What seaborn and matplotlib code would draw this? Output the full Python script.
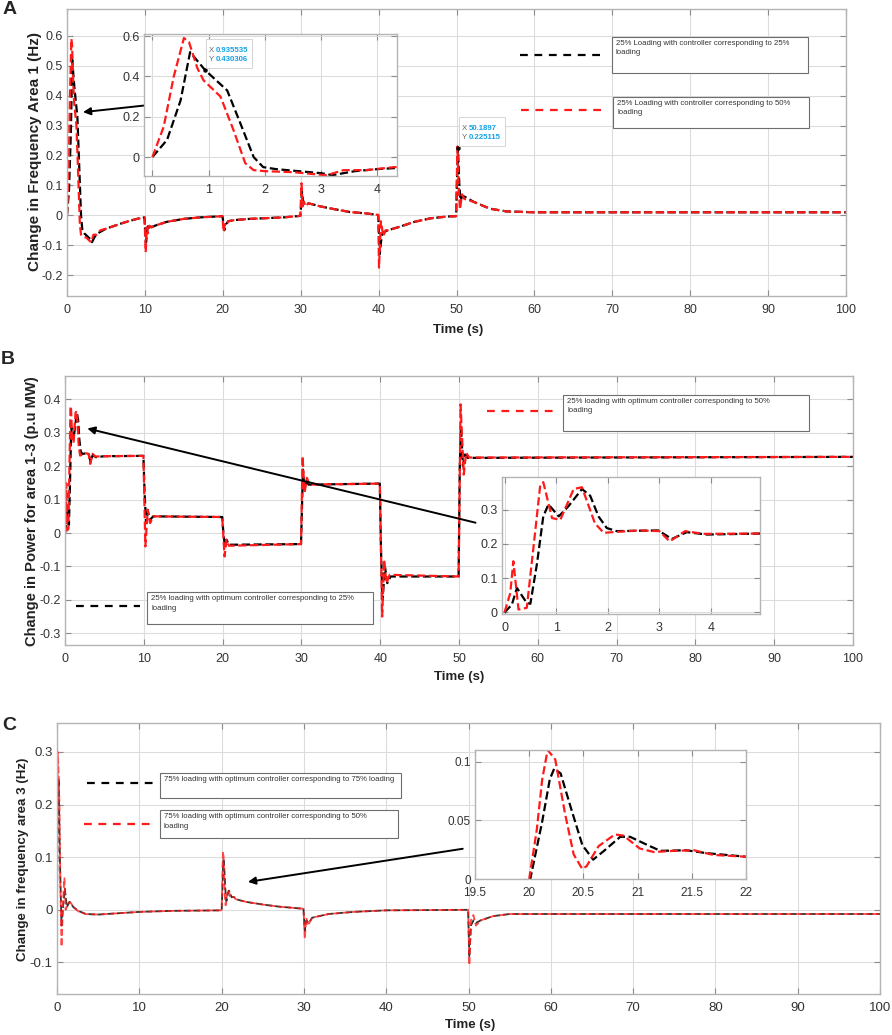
import pandas as pd
import seaborn as sns
import matplotlib.pyplot as plt
from matplotlib.lines import Line2D
from matplotlib.patches import Rectangle
from matplotlib.ticker import FuncFormatter
from matplotlib.transforms import ScaledTranslation

# ---- panel A: change in frequency area 1 (Hz) ----
a_t_black = [0, 0.26, 0.5, 0.67, 0.94, 1.33, 1.56, 1.8, 1.97, 2.2, 2.6, 3.0, 3.2, 3.6, 4.0, 4.3,
             5.0, 6.0, 7.0, 8.0, 9.0, 9.95, 10.05, 10.15, 10.3, 10.5, 10.8, 11.5, 12.8, 15.0, 17.1,
             19.95, 20.05, 20.2, 20.4, 20.7, 21.5, 23.5, 27.8, 29.95, 30.05, 30.15, 30.3, 30.5, 31.0,
             32.5, 34.0, 36.3, 38.5, 39.95, 40.05, 40.15, 40.3, 40.5, 40.8, 41.2, 42.5, 44.6, 46.7,
             48.9, 49.95, 50.05, 50.19, 50.35, 50.5, 50.8, 51.2, 52.2, 54.3, 56.4, 60, 100]
a_y_black = [0, 0.085, 0.28, 0.52, 0.43, 0.33, 0.17, 0.0, -0.05, -0.06, -0.07, -0.08, -0.09, -0.07, -0.06, -0.055,
             -0.045, -0.036, -0.027, -0.019, -0.012, -0.007, -0.06, -0.09, -0.05, -0.03, -0.04, -0.033, -0.022, -0.012, -0.007,
             -0.003, -0.02, -0.05, -0.03, -0.02, -0.016, -0.012, -0.007, -0.002, 0.03, 0.08, 0.05, 0.035, 0.04,
             0.03, 0.022, 0.011, 0.006, 0.001, -0.06, -0.13, -0.09, -0.06, -0.055, -0.05, -0.04, -0.022, -0.01,
             -0.004, -0.003, 0.1, 0.225, 0.11, 0.05, 0.065, 0.06, 0.045, 0.022, 0.013, 0.01, 0.01]
a_t_red = [0, 0.2, 0.38, 0.56, 0.65, 0.8, 0.91, 1.21, 1.44, 1.65, 1.8, 2.0, 2.5, 3.0, 3.1, 3.4, 3.8, 4.3,
           5.0, 6.0, 7.0, 8.0, 9.0, 9.95, 10.1, 10.25, 10.4, 10.6, 10.9, 11.5, 12.8, 15.0, 17.1,
           19.95, 20.1, 20.25, 20.45, 20.7, 21.5, 23.5, 27.8, 29.95, 30.1, 30.25, 30.4, 30.6, 31.0,
           32.5, 34.0, 36.3, 38.5, 39.95, 40.05, 40.3, 40.6, 40.9, 41.2, 42.5, 44.6, 46.7,
           48.9, 49.95, 50.12, 50.3, 50.45, 50.7, 51.0, 52.2, 54.3, 56.4, 60, 100]
a_y_red = [0, 0.15, 0.4, 0.59, 0.57, 0.44, 0.38, 0.30, 0.135, -0.03, -0.065, -0.07, -0.075, -0.088, -0.09, -0.065, -0.065, -0.05,
           -0.045, -0.036, -0.027, -0.019, -0.012, -0.007, -0.123, -0.04, -0.06, -0.035, -0.04, -0.033, -0.022, -0.012, -0.007,
           -0.003, -0.055, -0.03, -0.035, -0.02, -0.016, -0.012, -0.007, -0.002, 0.107, 0.03, 0.045, 0.03, 0.04,
           0.03, 0.022, 0.011, 0.006, 0.001, -0.175, -0.02, -0.07, -0.05, -0.05, -0.04, -0.022, -0.01,
           -0.004, -0.003, 0.23, 0.08, 0.02, 0.07, 0.055, 0.045, 0.022, 0.013, 0.01, 0.01]
a_yticks = [-0.2, -0.1, 0, 0.1, 0.2, 0.3, 0.4, 0.5, 0.6]
a_inset_yticks = [0, 0.2, 0.4, 0.6]
a_inset_xticks = [0, 1, 2, 3, 4]
a_tip_inset = (0.935535, 0.430306)
a_tip_main = (50.1897, 0.225115)

# ---- panel B: change in power for area 1-3 (p.u MW) ----
b_t_black = [0, 0.14, 0.24, 0.43, 0.5, 0.63, 0.75, 0.85, 1.05, 1.24, 1.5, 1.66, 1.82, 1.98, 2.17,
             2.98, 3.24, 3.53, 3.92, 5.0, 9.95, 10.1, 10.3, 10.5, 10.8, 11.2, 19.95, 20.1, 20.3, 20.5,
             20.8, 29.95, 30.2, 30.4, 30.6, 30.9, 39.95, 40.1, 40.3, 40.6, 40.9, 41.3, 49.95, 50.1, 50.25,
             50.5, 50.75, 51.1, 100]
b_y_black = [0, 0.022, 0.071, 0.027, 0.025, 0.144, 0.28, 0.315, 0.28, 0.31, 0.36, 0.34, 0.28, 0.246, 0.237,
             0.239, 0.214, 0.234, 0.227, 0.23, 0.231, 0.12, 0.03, 0.065, 0.04, 0.05, 0.048, 0.0, -0.04, -0.02,
             -0.035, -0.033, 0.19, 0.13, 0.16, 0.145, 0.148, -0.05, -0.2, -0.1, -0.15, -0.13, -0.13, 0.2, 0.32,
             0.2, 0.235, 0.225, 0.228]
b_t_red = [0, 0.11, 0.17, 0.27, 0.43, 0.56, 0.69, 0.75, 0.92, 1.08, 1.34, 1.5, 1.75, 1.92, 2.1,
           2.6, 3.0, 3.2, 3.5, 3.85, 5.0, 9.95, 10.2, 10.5, 10.8, 11.2, 19.95, 20.25, 20.5, 20.8,
           29.95, 30.15, 30.4, 30.7, 31.0, 39.95, 40.25, 40.5, 40.8, 41.2, 49.95, 50.2, 50.6, 50.9, 51.3, 100]
b_y_red = [0, 0.056, 0.149, 0.008, 0.013, 0.19, 0.37, 0.38, 0.275, 0.27, 0.36, 0.365, 0.26, 0.232, 0.234,
           0.239, 0.237, 0.207, 0.237, 0.229, 0.23, 0.231, -0.04, 0.07, 0.03, 0.05, 0.048, -0.07, -0.02, -0.038,
           -0.033, 0.23, 0.12, 0.165, 0.145, 0.148, -0.25, -0.08, -0.15, -0.125, -0.13, 0.385, 0.175, 0.24, 0.226, 0.228]
b_yticks = [-0.3, -0.2, -0.1, 0, 0.1, 0.2, 0.3, 0.4]
b_inset_yticks = [0, 0.1, 0.2, 0.3]
b_inset_xticks = [0, 1, 2, 3, 4]

# ---- panel C: change in frequency area 3 (Hz) ----
c_t_black = [0, 0.1, 0.2, 0.35, 0.55, 0.7, 0.95, 1.2, 1.5, 2.0, 2.6, 3.5, 5.0, 7.0, 10.0,
             14.0, 19.95, 20.01, 20.12, 20.19, 20.23, 20.29, 20.39, 20.49, 20.59, 20.69, 20.84, 20.93, 21.09, 21.21,
             21.45, 21.64, 22.0, 23.0, 25.0, 27.0, 29.95, 30.1, 30.3, 30.6, 31.0, 33.0, 36.0, 40.0, 49.95,
             50.1, 50.3, 50.6, 50.9, 51.5, 53.0, 55.0, 100]
c_y_black = [0, 0.2, 0.25, 0.1, -0.03, 0.0, 0.04, 0.005, 0.015, 0.005, -0.002, -0.008, -0.009, -0.007, -0.004,
             -0.002, -0.001, 0.0, 0.049, 0.085, 0.094, 0.09, 0.059, 0.029, 0.0165, 0.024, 0.036, 0.036, 0.029, 0.024,
             0.0245, 0.022, 0.019, 0.015, 0.01, 0.006, 0.002, -0.04, -0.02, -0.025, -0.015, -0.008, -0.004, -0.001, 0.0,
             -0.09, -0.03, -0.02, -0.025, -0.02, -0.012, -0.008, -0.008]
c_t_red = [0, 0.1, 0.2, 0.3, 0.4, 0.55, 0.75, 0.9, 1.05, 1.3, 1.6, 2.0, 2.6, 3.5, 5.0,
           7.0, 10.0, 14.0, 19.95, 20.0, 20.07, 20.12, 20.17, 20.24, 20.33, 20.41, 20.49, 20.53, 20.64, 20.79,
           20.87, 21.02, 21.15, 21.33, 21.52, 21.7, 22.0, 23.0, 25.0, 27.0, 29.95, 30.1, 30.3, 30.5, 31.0,
           33.0, 36.0, 40.0, 49.95, 50.1, 50.3, 50.6, 50.9, 51.5, 53.0, 55.0, 100]
c_y_red = [0, 0.3, 0.26, 0.2, 0.05, -0.07, 0.02, 0.06, 0.0, 0.01, 0.015, 0.005, -0.003, -0.008, -0.009,
           -0.007, -0.004, -0.002, -0.001, 0.0, 0.042, 0.085, 0.11, 0.102, 0.056, 0.021, 0.0085, 0.011, 0.028, 0.038,
           0.037, 0.026, 0.023, 0.024, 0.0245, 0.0205, 0.019, 0.015, 0.01, 0.006, 0.002, -0.055, -0.015, -0.03, -0.015,
           -0.008, -0.004, -0.001, 0.0, -0.105, -0.02, -0.01, -0.03, -0.02, -0.012, -0.008, -0.008]
c_yticks = [-0.1, 0, 0.1, 0.2, 0.3]
c_inset_yticks = [0, 0.05, 0.1]
c_inset_xticks = [19.5, 20, 20.5, 21, 21.5, 22]

time_ticks = list(range(0, 101, 10))

sns.set_style('whitegrid')
plt.rcParams['font.family'] = ['Liberation Sans', 'DejaVu Sans']
plt.rcParams['axes.unicode_minus'] = False

W, H = 892, 1035
fig = plt.figure(figsize=(W / 100, H / 100), dpi=100)


def px_axes(l, t, r, b):
    # axes placed by pixel edges measured from the top-left corner
    return fig.add_axes([l / W, 1 - b / H, (r - l) / W, (b - t) / H])


def draw_pair(ax, tb, yb, tr, yr, lw=1.6, alpha=1.0):
    blk = pd.DataFrame({'t': tb, 'v': yb})
    red = pd.DataFrame({'t': tr, 'v': yr})
    sns.lineplot(data=blk, x='t', y='v', ax=ax, color='black', linestyle='--', lw=lw,
                 alpha=alpha, estimator=None, sort=False)
    sns.lineplot(data=red, x='t', y='v', ax=ax, color='#ff1a1a', linestyle='--', lw=lw,
                 alpha=alpha, estimator=None, sort=False)
    ax.set_xlabel('')
    ax.set_ylabel('')


def style_axes(ax, xlim, ylim, xticks, yticks, fs, grid=True, xpad=6):
    ax.set_xlim(xlim)
    ax.set_ylim(ylim)
    ax.set_xticks(xticks)
    ax.set_yticks(yticks)
    fmt = FuncFormatter(lambda v, p: f'{round(v, 4):g}')
    ax.xaxis.set_major_formatter(fmt)
    ax.yaxis.set_major_formatter(fmt)
    ax.grid(grid, color='#dcdcdc', lw=0.8)
    ax.set_facecolor('white')
    ax.tick_params(direction='in', length=4, width=0.8, top=True, right=True, bottom=True, left=True,
                   labelsize=fs, labelcolor='#333333', color='#8c8c8c')
    ax.tick_params(axis='x', pad=xpad)
    ax.tick_params(axis='y', pad=3)
    for s in ax.spines.values():
        s.set_color('#b4b4b4')
        s.set_linewidth(1.0)


def legend_entry(x0, x1, y, color, box, text):
    fig.add_artist(Line2D([x0 / W, x1 / W], [1 - y / H, 1 - y / H], color=color, lw=1.6,
                          ls=(0, (3.5, 3))))
    l, t, r, b = box
    fig.add_artist(Rectangle((l / W, 1 - b / H), (r - l) / W, (b - t) / H, fc='white',
                             ec='#6e6e6e', lw=0.8))
    fig.text((l + 4) / W, 1 - (t + 3) / H, text, fontsize=5.6, va='top', ha='left',
             color='#333333', linespacing=1.5)


def datatip(ax, xy):
    x, y = xy
    ax.plot([x], [y], 'o', ms=2.2, color='black', zorder=5)
    # box sized in points, anchored on the data point
    anchor = fig.dpi_scale_trans + ScaledTranslation(x, y, ax.transData)
    ax.add_patch(Rectangle((1 / 72, 1.5 / 72), 33 / 72, 21 / 72, transform=anchor, fc='white',
                           ec='#cfcfcf', lw=0.6, zorder=5, clip_on=False))
    kw = dict(xy=(x, y), textcoords='offset points', fontsize=5.6, va='bottom', ha='left',
              zorder=6, linespacing=1.45)
    ax.annotate('X\nY', xytext=(3, 5), color='#666666', **kw)
    ax.annotate(f'{x:g}\n{y:g}', xytext=(7.6, 5), color='#12a2e6', fontweight='bold', **kw)


arrow_kw = dict(arrowstyle='-|>', color='black', lw=1.4, mutation_scale=11, shrinkA=0, shrinkB=0)

# ================= A =================
ax_a = px_axes(67, 9, 846, 296)
draw_pair(ax_a, a_t_black, a_y_black, a_t_red, a_y_red)
style_axes(ax_a, (0, 100), (-0.27, 0.69), time_ticks, a_yticks, 9)
ax_a.annotate('', xy=(2.05, 0.345), xytext=(11.3, 0.371), arrowprops=arrow_kw)
datatip(ax_a, a_tip_main)

ins_a = px_axes(144, 34, 397, 176)
draw_pair(ins_a, a_t_black, a_y_black, a_t_red, a_y_red)
style_axes(ins_a, (-0.15, 4.35), (-0.094, 0.61), a_inset_xticks, a_inset_yticks, 9, grid=False)
datatip(ins_a, a_tip_inset)

legend_entry(520, 605, 55, 'black', (612, 37, 808, 73),
             '25% Loading with controller corresponding to 25%\nloading')
legend_entry(521, 604, 110, '#ff1a1a', (613, 97, 809, 128),
             '25% Loading with controller corresponding to 50%\nloading')

fig.text(10 / W, 1 - 10 / H, 'A', fontsize=14, fontweight='bold', ha='center', va='center')
fig.text(35 / W, 1 - 152 / H, 'Change in Frequency Area 1 (Hz)', rotation=90, fontsize=11,
         fontweight='bold', ha='center', va='center', color='#222222')
fig.text(458 / W, 1 - 330 / H, 'Time (s)', fontsize=9.5, fontweight='bold', ha='center',
         va='center', color='#222222')

# ================= B =================
ax_b = px_axes(65, 376, 853, 645)
draw_pair(ax_b, b_t_black, b_y_black, b_t_red, b_y_red)
style_axes(ax_b, (0, 100), (-0.335, 0.47), time_ticks, b_yticks, 9)
ax_b.annotate('', xy=(2.83, 0.313), xytext=(52.1, 0.031), arrowprops=arrow_kw)

ins_b = px_axes(502, 477, 760, 614)
draw_pair(ins_b, b_t_black, b_y_black, b_t_red, b_y_red)
style_axes(ins_b, (-0.05, 4.95), (-0.005, 0.395), b_inset_xticks, b_inset_yticks, 9, grid=False)

legend_entry(487, 553, 411, '#ff1a1a', (563, 395, 809, 431),
             '25% loading with optimum controller corresponding to 50%\nloading')
legend_entry(76, 140, 606, 'black', (147, 592, 373, 624),
             '25% loading with optimum controller corresponding to 25%\nloading')

fig.text(8 / W, 1 - 360 / H, 'B', fontsize=14, fontweight='bold', ha='center', va='center')
fig.text(32 / W, 1 - 511 / H, 'Change in Power for area 1-3 (p.u MW)', rotation=90, fontsize=10.6,
         fontweight='bold', ha='center', va='center', color='#222222')
fig.text(459 / W, 1 - 677 / H, 'Time (s)', fontsize=9.5, fontweight='bold', ha='center',
         va='center', color='#222222')

# ================= C =================
ax_c = px_axes(57, 723, 880, 994)
draw_pair(ax_c, c_t_black, c_y_black, c_t_red, c_y_red, lw=1.3, alpha=0.8)
style_axes(ax_c, (0, 100), (-0.16, 0.355), time_ticks, c_yticks, 9.5)
ax_c.annotate('', xy=(23.2, 0.053), xytext=(49.3, 0.116), arrowprops=arrow_kw)

ins_c = px_axes(475, 750, 746, 879)
draw_pair(ins_c, c_t_black, c_y_black, c_t_red, c_y_red)
style_axes(ins_c, (19.5, 22), (0, 0.11), c_inset_xticks, c_inset_yticks, 8.5, grid=False)

legend_entry(87, 153, 783, 'black', (160, 773, 401, 798),
             '75% loading with optimum controller corresponding to 75% loading')
legend_entry(84, 152, 824, '#ff1a1a', (160, 810, 398, 838),
             '75% loading with optimum controller corresponding to 50%\nloading')

fig.text(9 / W, 1 - 725 / H, 'C', fontsize=14, fontweight='bold', ha='center', va='center')
fig.text(23 / W, 1 - 859 / H, 'Change in frequency area 3 (Hz)', rotation=90, fontsize=9.6,
         fontweight='bold', ha='center', va='center', color='#222222')
fig.text(470 / W, 1 - 1025 / H, 'Time (s)', fontsize=9.5, fontweight='bold', ha='center',
         va='center', color='#222222')

fig.savefig('out.png', dpi=100, facecolor='white')
